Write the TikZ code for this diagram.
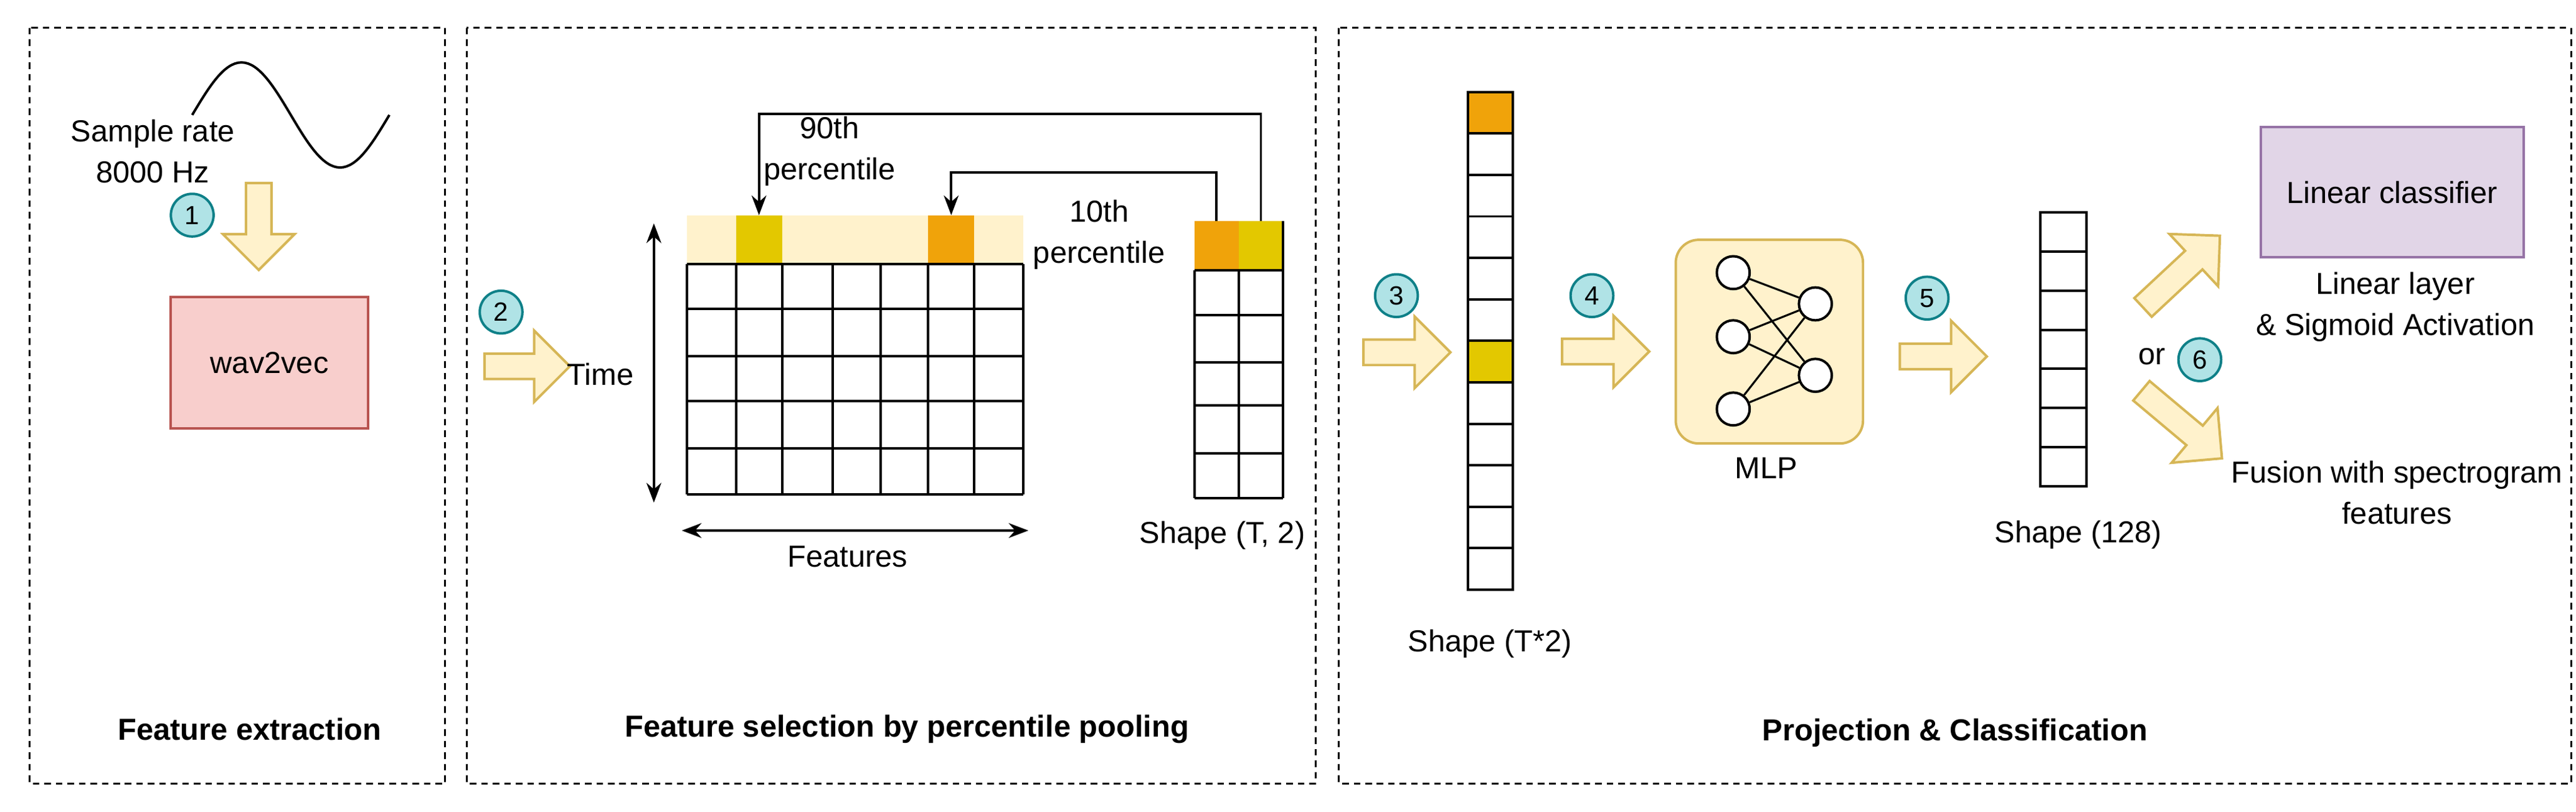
\documentclass[tikz,border=0pt]{standalone}
\usepackage{fontspec}
\setmainfont{Liberation Sans}
\usetikzlibrary{shapes.arrows,arrows.meta}
\definecolor{yel}{HTML}{FFF2CC}\definecolor{yeld}{HTML}{D6B656}
\definecolor{gold}{HTML}{E3C800}\definecolor{orng}{HTML}{F0A30A}
\definecolor{cyf}{HTML}{B0E3E6}\definecolor{cyd}{HTML}{0E8088}
\definecolor{redf}{HTML}{F8CECC}\definecolor{redd}{HTML}{B85450}
\definecolor{purf}{HTML}{E1D5E7}\definecolor{purd}{HTML}{9673A6}
\tikzset{
 panel/.style={draw,dashed,line width=1.2pt,dash pattern=on 4pt off 3pt},
 txt/.style={font=\fontsize{18.5}{22}\selectfont,align=center,inner sep=0pt},
 ttl/.style={txt,font=\fontsize{18.5}{22}\selectfont\bfseries},
 num/.style={circle,fill=cyf,draw=cyd,line width=1.5pt,minimum size=26pt,inner sep=0pt,font=\fontsize{16}{18}\selectfont},
 fat/.style={single arrow,fill=yel,draw=yeld,line width=1.5pt,inner sep=7pt,minimum width=42pt,single arrow head extend=14pt,minimum height=53pt},
 cell/.style={inner sep=0pt,outer sep=0pt},
 gl/.style={line width=1.5pt},
 con/.style={line width=1.5pt,-{Stealth[length=12pt,width=9pt]}},
 neu/.style={circle,draw,fill=white,line width=1.5pt,minimum size=20pt,inner sep=0pt},
}
\begin{document}
\begin{tikzpicture}[x=1pt,y=-1pt]
\useasboundingbox (0,0) rectangle (1568,494);
% panels
\draw[panel] (18,17) rectangle (271,477);
\draw[panel] (284,17) rectangle (801,477);
\draw[panel] (815,17) rectangle (1565,477);
\node[ttl] (t1) at (152,444) {Feature extraction};
\node[ttl] (t2) at (552,444) {Feature selection by percentile pooling};
\node[ttl] (t3) at (1190,446) {Projection \& Classification};
% panel 1
\draw[line width=1.5pt] (117,70) sin (147,38) cos (177,70) sin (207,102) cos (237,70);
\node[txt] (sr) at (93,92) {Sample rate\\[3pt]8000 Hz};
\node[fat,rotate=-90] (a1) at (157.5,134) {};
\node[num] (n1) at (117,131) {1};
\node[draw=redd,fill=redf,line width=1.5pt,minimum width=120pt,minimum height=80pt,txt] (w2v) at (164,221) {wav2vec};
% panel 2
\node[num] (n2) at (305,190) {2};
\node[fat,minimum height=52pt] (a2) at (317,223) {};
\node[txt,anchor=west] (time) at (345,228) {Time};
\draw[gl,{Stealth[length=12pt,width=9pt]}-{Stealth[length=12pt,width=9pt]}] (398,136) -- (398,306);
\draw[gl,{Stealth[length=12pt,width=9pt]}-{Stealth[length=12pt,width=9pt]}] (415,323) -- (626,323);
\node[txt] (feat) at (516,339) {Features};
% main grid
\fill[yel] (418,131) rectangle (623,160.6);
\node[cell,fill=gold,minimum width=28pt,minimum height=29.6pt] (c90) at (462,145.8) {};
\node[cell,fill=orng,minimum width=28pt,minimum height=29.6pt] (c10) at (579,145.8) {};
\foreach \y in {160.6,188,217,244.3,273,301} \draw[gl] (418,\y) -- (623,\y);
\foreach \x in {418,448,476,507,536,565,593,623} \draw[gl] (\x,160.6) -- (\x,301);
% small grid
\node[cell,fill=orng,minimum width=27pt,minimum height=29.7pt] (s10) at (740.5,149.5) {};
\node[cell,fill=gold,minimum width=27pt,minimum height=29.7pt] (s90) at (767.5,149.5) {};
\foreach \y in {164.4,191.8,220.6,246.8,276,303.3} \draw[gl] (727,\y) -- (781,\y);
\foreach \x in {727,754,781} \draw[gl] (\x,164.4) -- (\x,303.3);
\draw[gl] (781,134.7) -- (781,164.4);
\node[txt] (sh1) at (744,326) {Shape (T, 2)};
% percentile connectors
\coordinate (b90a) at (767.5,69.4); \coordinate (b90b) at (462,69.4);
\coordinate (b10a) at (740.5,105); \coordinate (b10b) at (579,105);
\draw[con] (s90.north) -- (b90a) -- (b90b) -- (c90.north);
\draw[con] (s10.north) -- (b10a) -- (b10b) -- (c10.north);
\node[txt] (p90) at (505,92) {90th\\[3pt]percentile};
\node[txt] (p10) at (669,143) {10th\\[3pt]percentile};
% panel 3
\node[num] (n3) at (850,180) {3};
\node[fat] (a3) at (852.5,214.5) {};
\foreach \i in {0,...,11} {
  \pgfmathsetmacro{\yy}{56+25.25*\i}
  \draw[gl] (893.5,\yy) rectangle (921,\yy+25.25);
}
\node[cell,draw,gl,fill=orng,minimum width=27.5pt,minimum height=25.25pt] (v1) at (907.25,68.6) {};
\node[cell,draw,gl,fill=gold,minimum width=27.5pt,minimum height=25.25pt] (v7) at (907.25,220.1) {};
\node[txt] (sh2) at (907,392) {Shape (T*2)};
\node[num] (n4) at (969,180) {4};
\node[fat] (a4) at (973.5,214) {};
\node[draw=yeld,fill=yel,line width=1.5pt,rounded corners=14pt,minimum width=114pt,minimum height=124pt] (mlp) at (1077,208) {};
\node[neu] (i1) at (1055,166) {};
\node[neu] (i2) at (1055,205) {};
\node[neu] (i3) at (1055,249) {};
\node[neu] (h1) at (1105,185) {};
\node[neu] (h2) at (1105,228.5) {};
\foreach \a in {i1,i2,i3} \foreach \b in {h1,h2} \draw[line width=1.2pt] (\a) -- (\b);
\node[txt] (mlpt) at (1075,285) {MLP};
\node[num] (n5) at (1173,181.5) {5};
\node[fat] (a5) at (1179,217) {};
\foreach \i in {0,...,6} {
  \pgfmathsetmacro{\yy}{129.4+23.8*\i}
  \draw[gl] (1242,\yy) rectangle (1270,\yy+23.8);
}
\node[txt] (sh3) at (1265,325.5) {Shape (128)};
\node[fat,rotate=43,minimum height=64pt] (a6) at (1325,168) {};
\node[fat,rotate=-40,minimum height=64pt] (a7) at (1325,256) {};
\node[txt] (or) at (1310,217) {or};
\node[num] (n6) at (1339,219) {6};
\node[draw=purd,fill=purf,line width=1.5pt,minimum width=160pt,minimum height=79pt,txt] (lc) at (1456,117) {Linear classifier};
\node[txt] (ll) at (1458,187) {Linear layer\\[3pt]\& Sigmoid Activation};
\node[txt] (fu) at (1459,300) {Fusion with spectrogram\\[3pt]features};
\end{tikzpicture}
\end{document}
